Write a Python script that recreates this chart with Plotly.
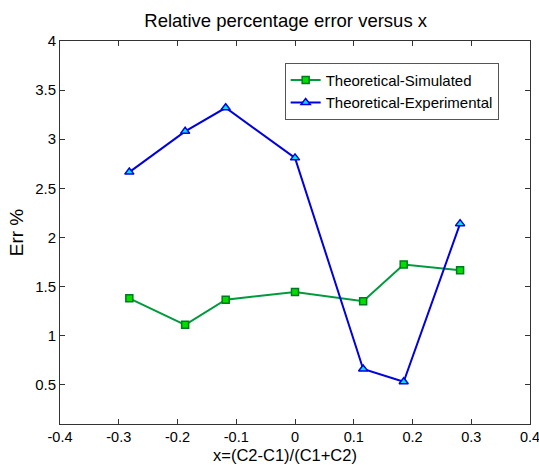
import plotly.graph_objects as go

x_vals = [-0.282, -0.187, -0.118, 0.0, 0.116, 0.185, 0.281]
sim_err = [1.38, 1.11, 1.365, 1.445, 1.35, 1.725, 1.665]
exp_err = [2.665, 3.08, 3.32, 2.81, 0.66, 0.53, 2.14]

x_ticks = [-0.4, -0.3, -0.2, -0.1, 0, 0.1, 0.2, 0.3, 0.4]
x_tick_labels = ["-0.4", "-0.3", "-0.2", "-0.1", "0", "0.1", "0.2", "0.3", "0.4"]
y_ticks = [0.5, 1, 1.5, 2, 2.5, 3, 3.5, 4]
y_tick_labels = ["0.5", "1", "1.5", "2", "2.5", "3", "3.5", "4"]

FONT = "Liberation Sans, Arial, sans-serif"

fig = go.Figure()
fig.add_trace(go.Scatter(
    x=x_vals, y=sim_err, mode="lines+markers", name="Theoretical-Simulated",
    line=dict(color="#009a3e", width=2),
    marker=dict(symbol="square", size=7, color="#00dd00", line=dict(color="#007a20", width=1.5)),
))
fig.add_trace(go.Scatter(
    x=x_vals, y=exp_err, mode="lines+markers", name="Theoretical-Experimental",
    line=dict(color="#0000e0", width=2),
    marker=dict(symbol="triangle-up", size=8, color="#00e5ff", line=dict(color="#0000e0", width=1.5)),
))

axis_common = dict(
    showline=True, linecolor="#333333", linewidth=1, mirror="ticks",
    ticks="inside", ticklen=5, tickcolor="#333333", tickwidth=1,
    showgrid=False, zeroline=False, automargin=False,
    ticklabeloverflow="allow",
)

fig.update_layout(
    width=539, height=465,
    paper_bgcolor="white", plot_bgcolor="white",
    margin=dict(l=60, r=9, t=41, b=41),
    title=dict(text="Relative percentage error versus x", xref="container", x=0.53, xanchor="center",
               yref="container", y=0.955, yanchor="middle",
               font=dict(family=FONT, size=18.5, color="#000000")),
    xaxis=dict(range=[-0.4, 0.4], tickvals=x_ticks, ticktext=x_tick_labels,
               ticklabelstandoff=0,
               tickfont=dict(family=FONT, size=14.5, color="#000000"),
               **axis_common),
    yaxis=dict(range=[0.1, 4], tickvals=y_ticks, ticktext=y_tick_labels,
               tickfont=dict(family=FONT, size=15, color="#000000"),
               title=dict(text="Err %", standoff=6,
                          font=dict(family=FONT, size=19, color="#000000")),
               **axis_common),
    legend=dict(x=0.478, y=0.943, xanchor="left", yanchor="top",
                bgcolor="white", bordercolor="#555555", borderwidth=1,
                font=dict(family=FONT, size=15, color="#000000"),
                tracegroupgap=0, itemwidth=30),
    showlegend=True,
    annotations=[dict(text="x=(C2-C1)/(C1+C2)", xref="paper", yref="paper",
                      x=0.479, y=-0.08, xanchor="center", yanchor="middle",
                      showarrow=False,
                      font=dict(family=FONT, size=16.5, color="#000000"))],
)

fig.write_html("out.html")
